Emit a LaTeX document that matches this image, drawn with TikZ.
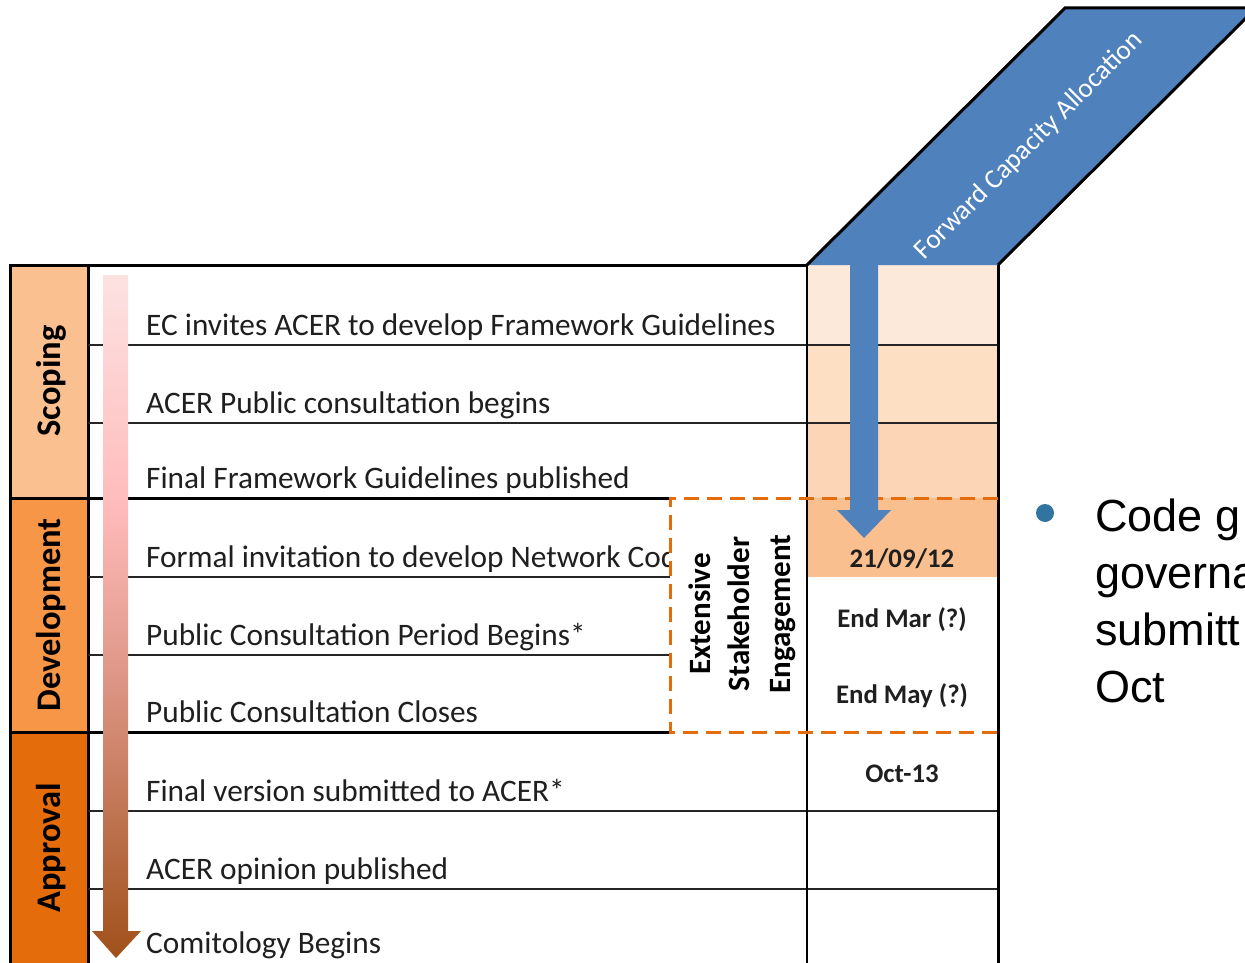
\documentclass[tikz,border=0pt]{standalone}
\usepackage{fontspec}
\setmainfont{Carlito}
\newfontfamily\arialf{Liberation Sans}
\definecolor{phaseA}{HTML}{FAC090}
\definecolor{phaseB}{HTML}{F79646}
\definecolor{phaseC}{HTML}{E46C0A}
\definecolor{cellA}{HTML}{FCE9DA}
\definecolor{cellB}{HTML}{FDE0C4}
\definecolor{cellC}{HTML}{FBD5B5}
\definecolor{cellD}{HTML}{F9BF8E}
\definecolor{fcablue}{HTML}{4F81BD}
\definecolor{dorange}{HTML}{E46C0A}
\definecolor{txtc}{HTML}{1F1F1F}
\definecolor{bulletc}{HTML}{31749F}
\definecolor{arT}{HTML}{FDE2E2}
\definecolor{arM}{HTML}{FFBBBB}
\definecolor{arC}{HTML}{DC9584}
\definecolor{arB}{HTML}{A0501A}
\pgfdeclareverticalshading{arrowshade}{100bp}{color(0bp)=(arB); color(25bp)=(arB); color(45bp)=(arC); color(58bp)=(arM); color(75bp)=(arT); color(100bp)=(arT)}
\begin{document}
\begin{tikzpicture}[x=1pt,y=-1pt,
  rowtext/.style={anchor=base west, inner sep=0pt, font=\fontsize{31.3}{37}\selectfont, text=txtc},
  phaselabel/.style={rotate=90, anchor=base, inner sep=0pt, font=\bfseries\fontsize{34.5}{40}\selectfont, text=black},
  engtext/.style={rotate=90, anchor=base, inner sep=0pt, font=\bfseries\fontsize{31}{37}\selectfont, text=black},
  datetext/.style={anchor=base, inner sep=0pt, font=\bfseries\fontsize{26.8}{31}\selectfont, text=txtc},
  bullettext/.style={anchor=base west, inner sep=0pt, font=\arialf\fontsize{45}{54}\selectfont, text=black},
  gridthick/.style={line width=3pt, draw=black},
  gridmid/.style={line width=2pt, draw=black},
  gridthin/.style={line width=1.5pt, draw=black!85},
  dashbox/.style={line width=3pt, draw=dorange, dash pattern=on 15pt off 8pt}]
\clip (0,0) rectangle (1245,963);
% phase column fills
\fill[phaseA] (10,265) rectangle (88,498);
\fill[phaseB] (10,498) rectangle (88,732);
\fill[phaseC] (10,732) rectangle (88,963);
% right column fills
\fill[cellA] (807,265) rectangle (998,345);
\fill[cellB] (807,345) rectangle (998,423);
\fill[cellC] (807,423) rectangle (998,498);
\fill[cellD] (807,498) rectangle (998,577);
% parallelogram
\fill[fcablue] (807,265) -- (1065,8) -- (1256,8) -- (998,265) -- cycle;
\draw[gridthick, line join=miter] (807,265) -- (1065,8) -- (1256,8) -- (998,265);
% grid
\draw[gridthick] (10,265) -- (807,265);
\draw[gridthick] (10,263.5) -- (10,963);
\draw[gridthick] (88,265) -- (88,963);
\draw[gridthick] (10,498) -- (670,498);
\draw[gridthick] (10,732) -- (670,732);
\draw[gridthin] (88,345) -- (998,345);
\draw[gridthin] (88,423) -- (998,423);
\draw[gridthin] (88,577) -- (670,577);
\draw[gridthin] (88,655) -- (670,655);
\draw[gridthin] (88,811) -- (998,811);
\draw[gridthin] (88,889) -- (998,889);
\draw[gridmid] (807,265) -- (807,963);
\draw[gridthick] (998,265) -- (998,963);
\draw[dashbox] (998,498) -- (670,498) -- (670,732) -- (998,732);
% row texts
\node[rowtext] (r1) at (146,335) {EC invites ACER to develop Framework Guidelines};
\node[rowtext] (r2) at (146,413) {ACER Public consultation begins};
\node[rowtext] (r3) at (146,488) {Final Framework Guidelines published};
\begin{scope}
\clip (100,500) rectangle (668,576);
\node[rowtext] (r4) at (146,567) {Formal invitation to develop Network Cod};
\end{scope}
\node[rowtext] (r5) at (146,645) {Public Consultation Period Begins*};
\node[rowtext] (r6) at (146,722) {Public Consultation Closes};
\node[rowtext] (r7) at (146,801) {Final version submitted to ACER*};
\node[rowtext] (r8) at (146,879) {ACER opinion published};
\node[rowtext] (r9) at (146,953) {Comitology Begins};
% phase labels
\node[phaselabel] (scoping) at (60,381) {Scoping};
\node[phaselabel] (devel) at (60,615) {Development};
\node[phaselabel] (approval) at (60,848) {Approval};
% engagement
\node[engtext] (eng1) at (710,614) {Extensive};
\node[engtext] (eng2) at (749,614) {Stakeholder};
\node[engtext] (eng3) at (790,614) {Engagement};
% dates
\node[datetext] (d1) at (902,567) {21/09/12};
\node[datetext] (d2) at (902,627) {End Mar (?)};
\node[datetext] (d3) at (902,703) {End May (?)};
\node[datetext] (d4) at (902,782) {Oct-13};
% forward capacity allocation label
\node[rotate=45, inner sep=0pt, text=white, font=\fontsize{27.3}{32}\selectfont] (fca) at (1029,146) {Forward Capacity Allocation};
% pink gradient arrow
\shade[shading=arrowshade] (103,275) -- (103,931) -- (92,931) -- (116,958) -- (141,931) -- (128,931) -- (128,275) -- cycle;
% blue arrow
\fill[fcablue] (850,262) -- (850,510) -- (837,510) -- (864,538) -- (891,510) -- (878,510) -- (878,262) -- cycle;
% bullet
\node[circle, fill=bulletc, minimum size=18pt, inner sep=0pt] (bul) at (1045,513) {};
\node[bullettext] (b1) at (1095,531) {Code g};
\node[bullettext] (b2) at (1095,588) {governa};
\node[bullettext] (b3) at (1095,645) {submitt};
\node[bullettext] (b4) at (1095,702) {Oct};
\end{tikzpicture}
\end{document}
